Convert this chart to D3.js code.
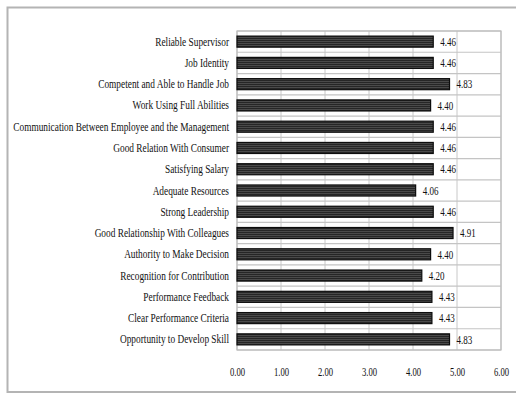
<!DOCTYPE html>
<html>
<head>
<meta charset="utf-8">
<script src="https://cdn.jsdelivr.net/npm/d3@7"></script>
<style>
  html, body { margin: 0; padding: 0; background: #fff; }
  svg { display: block; }
  text { font-family: "Liberation Serif", "DejaVu Serif", serif; fill: #111; }
</style>
</head>
<body>
<svg id="chart" width="516" height="394"></svg>
<script>
// Job satisfaction factors, mean scores (top to bottom)
const factors = [
  "Reliable Supervisor",
  "Job Identity",
  "Competent and Able to Handle Job",
  "Work Using Full Abilities",
  "Communication Between Employee and the Management",
  "Good Relation With Consumer",
  "Satisfying Salary",
  "Adequate Resources",
  "Strong Leadership",
  "Good Relationship With Colleagues",
  "Authority to Make Decision",
  "Recognition for Contribution",
  "Performance Feedback",
  "Clear Performance Criteria",
  "Opportunity to Develop Skill"
];
const scores = [4.46, 4.46, 4.83, 4.40, 4.46, 4.46, 4.46, 4.06, 4.46, 4.91, 4.40, 4.20, 4.43, 4.43, 4.83];
const tickValues = [0, 1, 2, 3, 4, 5, 6];

const data = factors.map((f, i) => ({ factor: f, score: scores[i] }));

const svg = d3.select("#chart");
const W = 516, H = 394;
const plot = { left: 237, right: 501, top: 31, bottom: 350 };
const labelRight = 229;    // right edge of the category labels
const labelMaxWidth = 216; // widest label is squeezed to this width

// Outer frame (left, top, bottom edges)
svg.append("path")
  .attr("d", `M${W},7.5 H7.5 V392 H${W}`)
  .attr("stroke", "#b4b4b4").attr("stroke-width", 2).attr("fill", "none");

const x = d3.scaleLinear().domain([0, 6]).range([plot.left, plot.right]);
const y = d3.scaleBand().domain(factors).range([plot.top, plot.bottom]).paddingInner(0.48).paddingOuter(0.24);

// Striped fill for the bars
const defs = svg.append("defs");
const pat = defs.append("pattern").attr("id", "stripes")
  .attr("patternUnits", "userSpaceOnUse").attr("width", 4).attr("height", 2);
pat.append("rect").attr("width", 4).attr("height", 2).attr("fill", "#4a4a4a");
pat.append("rect").attr("width", 4).attr("height", 1).attr("fill", "#262626");

// Vertical gridlines at each tick
svg.append("g").selectAll("line").data(tickValues).join("line")
  .attr("x1", d => x(d)).attr("x2", d => x(d))
  .attr("y1", plot.top).attr("y2", plot.bottom)
  .attr("stroke", "#c8c8c8").attr("stroke-width", 1);

// Horizontal gridlines between categories
const step = (plot.bottom - plot.top) / factors.length;
svg.append("g").selectAll("line").data(d3.range(factors.length + 1)).join("line")
  .attr("x1", plot.left).attr("x2", plot.right)
  .attr("y1", d => plot.top + d * step).attr("y2", d => plot.top + d * step)
  .attr("stroke", "#c4c4c4").attr("stroke-width", 1.2);

// Plot border
svg.append("rect")
  .attr("x", plot.left).attr("y", plot.top)
  .attr("width", plot.right - plot.left).attr("height", plot.bottom - plot.top)
  .attr("fill", "none").attr("stroke", "#bdbdbd").attr("stroke-width", 1.2);

// Bars
svg.append("g").selectAll("rect").data(data).join("rect")
  .attr("x", x(0)).attr("y", d => y(d.factor))
  .attr("width", d => x(d.score) - x(0)).attr("height", y.bandwidth())
  .attr("fill", "url(#stripes)").attr("stroke", "#0d0d0d").attr("stroke-width", 1.2);

// Value labels (narrowed)
svg.append("g").selectAll("text").data(data).join("text")
  .attr("transform", d => `translate(${x(d.score) + 7},${y(d.factor) + y.bandwidth() / 2}) scale(0.75,1)`)
  .attr("dy", "0.35em").attr("font-size", 12)
  .text(d => d.score.toFixed(2));

// Category labels, right-aligned and squeezed horizontally
const yAxis = d3.axisLeft(y).tickSize(0).tickPadding(0);
const gy = svg.append("g").attr("transform", `translate(${labelRight},0)`).call(yAxis);
gy.select(".domain").remove();
const catText = gy.selectAll("text").attr("font-size", 12.5).style("font-family", null).attr("x", 0);
let widest = 0;
catText.each(function () { widest = Math.max(widest, this.getComputedTextLength()); });
const sx = Math.min(1, labelMaxWidth / widest);
catText.attr("transform", `scale(${sx},1)`);

// Value axis tick labels
const xAxis = d3.axisBottom(x).tickValues(tickValues).tickFormat(d3.format(".2f")).tickSize(0).tickPadding(0);
const gx = svg.append("g").attr("transform", `translate(0,${plot.bottom + 22})`).call(xAxis);
gx.select(".domain").remove();
gx.selectAll("text").attr("font-size", 12).style("font-family", null)
  .attr("y", 0).attr("dy", "0.35em").attr("x", 0)
  .attr("transform", "scale(0.72,1)");
</script>
</body>
</html>
